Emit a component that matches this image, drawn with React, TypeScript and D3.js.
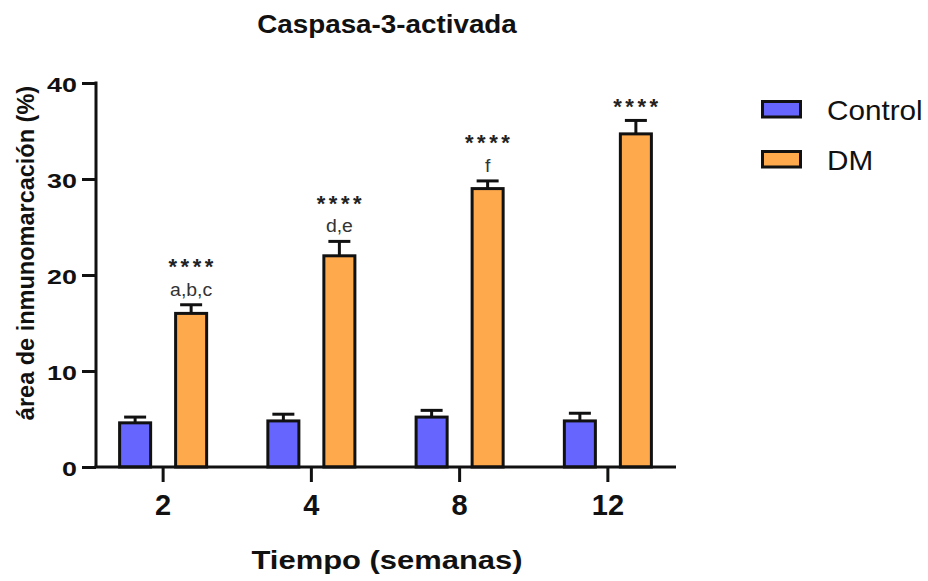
import * as d3 from "d3";
import React, { useRef, useEffect } from "react";

const weeks = ["2", "4", "8", "12"];
const groups = ["Control", "DM"];
const controlMean = [4.6, 4.8, 5.2, 4.8];
const controlErr = [0.6, 0.7, 0.7, 0.8];
const dmMean = [16.0, 22.0, 29.0, 34.7];
const dmErr = [0.9, 1.5, 0.8, 1.4];
const starLabels = ["****", "****", "****", "****"];
const letterLabels = ["a,b,c", "d,e", "f", ""];
const yTicks = [0, 10, 20, 30, 40];

const colors = ["#6666FF", "#FFA94D"];
const font = "'Liberation Sans', Arial, Helvetica, sans-serif";

// text with a horizontal stretch (the source image is a bit wide)
const addText = (parent, x, y, txt, size, opts: any = {}) => {
  const { weight = "normal", sx = 1, anchor = "middle", fill = "#111", rotate = 0 } = opts;
  const tf = rotate
    ? `translate(${x},${y}) rotate(${rotate}) scale(${sx},1)`
    : `translate(${x},${y}) scale(${sx},1)`;
  return parent.append("text")
    .attr("transform", tf)
    .attr("text-anchor", anchor)
    .attr("font-family", font)
    .attr("font-size", size)
    .attr("font-weight", weight)
    .attr("fill", fill)
    .text(txt);
};

const App = () => {
  const svgRef = useRef<SVGSVGElement>(null);

  useEffect(() => {
    const svg = d3.select(svgRef.current);
    svg.selectAll("*").remove();

    const x0 = d3.scaleBand().domain(weeks).range([89, 682]);
    const x1 = d3.scaleBand().domain(groups).range([-62, 62]).paddingInner(0.446).paddingOuter(0.33);
    const y = d3.scaleLinear().domain([0, 40]).range([467, 83]);

    const series = [
      { name: "Control", mean: controlMean, err: controlErr },
      { name: "DM", mean: dmMean, err: dmErr },
    ];

    const g = svg.append("g");

    series.forEach((s, si) => {
      weeks.forEach((w, i) => {
        const cx = x0(w)! + x0.bandwidth() / 2;
        const bx = cx + x1(s.name)!;
        const bw = x1.bandwidth();
        const mid = bx + bw / 2;
        const top = y(s.mean[i]);
        const etop = y(s.mean[i] + s.err[i]);

        g.append("line")
          .attr("x1", mid).attr("x2", mid)
          .attr("y1", top).attr("y2", etop)
          .attr("stroke", "#111").attr("stroke-width", 3);
        g.append("line")
          .attr("x1", mid - 11).attr("x2", mid + 11)
          .attr("y1", etop).attr("y2", etop)
          .attr("stroke", "#111").attr("stroke-width", 3);
        g.append("rect")
          .attr("x", bx).attr("y", top)
          .attr("width", bw).attr("height", y(0) - top)
          .attr("fill", colors[si]).attr("stroke", "#111").attr("stroke-width", 3);

        if (s.name === "DM") {
          const hasLetters = letterLabels[i] !== "";
          // asterisks sit high in the em box: baseline ~12px under the glyph centre
          addText(g, mid + 1.5, etop - (hasLetters ? 43 : 19) + 12.5, starLabels[i], 22, {
            weight: "bold", fill: "#222",
          }).attr("letter-spacing", 3.5);
          if (hasLetters) {
            addText(g, mid, etop - 9, letterLabels[i], 18.5, { fill: "#333", sx: 1.05 });
          }
        }
      });
    });

    // y axis
    const yAxis = svg.append("g")
      .attr("transform", "translate(96,0)")
      .call(d3.axisLeft(y).tickValues(yTicks).tickSize(14));
    yAxis.select(".domain").attr("stroke", "#111").attr("stroke-width", 3).attr("d", `M0,${y(40) - 1.5}V${y(0)}`);
    yAxis.selectAll(".tick line").attr("stroke", "#111").attr("stroke-width", 3);
    yAxis.selectAll(".tick text")
      .attr("x", 0).attr("dy", null).attr("y", 0)
      .attr("transform", "translate(-19,8) scale(1.28,1)")
      .attr("font-family", font).attr("font-size", 21).attr("font-weight", "bold").attr("fill", "#111");

    // x axis
    const xAxis = svg.append("g")
      .attr("transform", `translate(0,${y(0)})`)
      .call(d3.axisBottom(x0).tickSize(15));
    xAxis.select(".domain").attr("stroke", "#111").attr("stroke-width", 3).attr("d", `M94.5,0H676`);
    xAxis.selectAll(".tick line").attr("stroke", "#111").attr("stroke-width", 3);
    xAxis.selectAll(".tick text")
      .attr("y", 48).attr("dy", null)
      .attr("font-family", font).attr("font-size", 29).attr("font-weight", "bold").attr("fill", "#111");

    // titles
    addText(svg, 387, 33, "Caspasa-3-activada", 26, { weight: "bold", sx: 1.07 });
    addText(svg, 387, 569, "Tiempo (semanas)", 26, { weight: "bold", sx: 1.19 });
    addText(svg, 34, 253, "área de inmunomarcación (%)", 23.5, { weight: "bold", rotate: -90 });

    // legend
    const legend = svg.append("g").attr("transform", "translate(762.5,101.5)");
    groups.forEach((name, i) => {
      const row = legend.append("g").attr("transform", `translate(0,${i * 50})`);
      row.append("rect")
        .attr("width", 38).attr("height", 15.5)
        .attr("fill", colors[i]).attr("stroke", "#111").attr("stroke-width", 3);
      addText(row, 64.5, 18, name, 27, { anchor: "start", sx: 1.1 });
    });
  }, []);

  return (
    <svg
      ref={svgRef}
      width={928}
      height={581}
      style={{ position: "absolute", left: 0, top: 0, background: "#fff" }}
    />
  );
};

export default App;
